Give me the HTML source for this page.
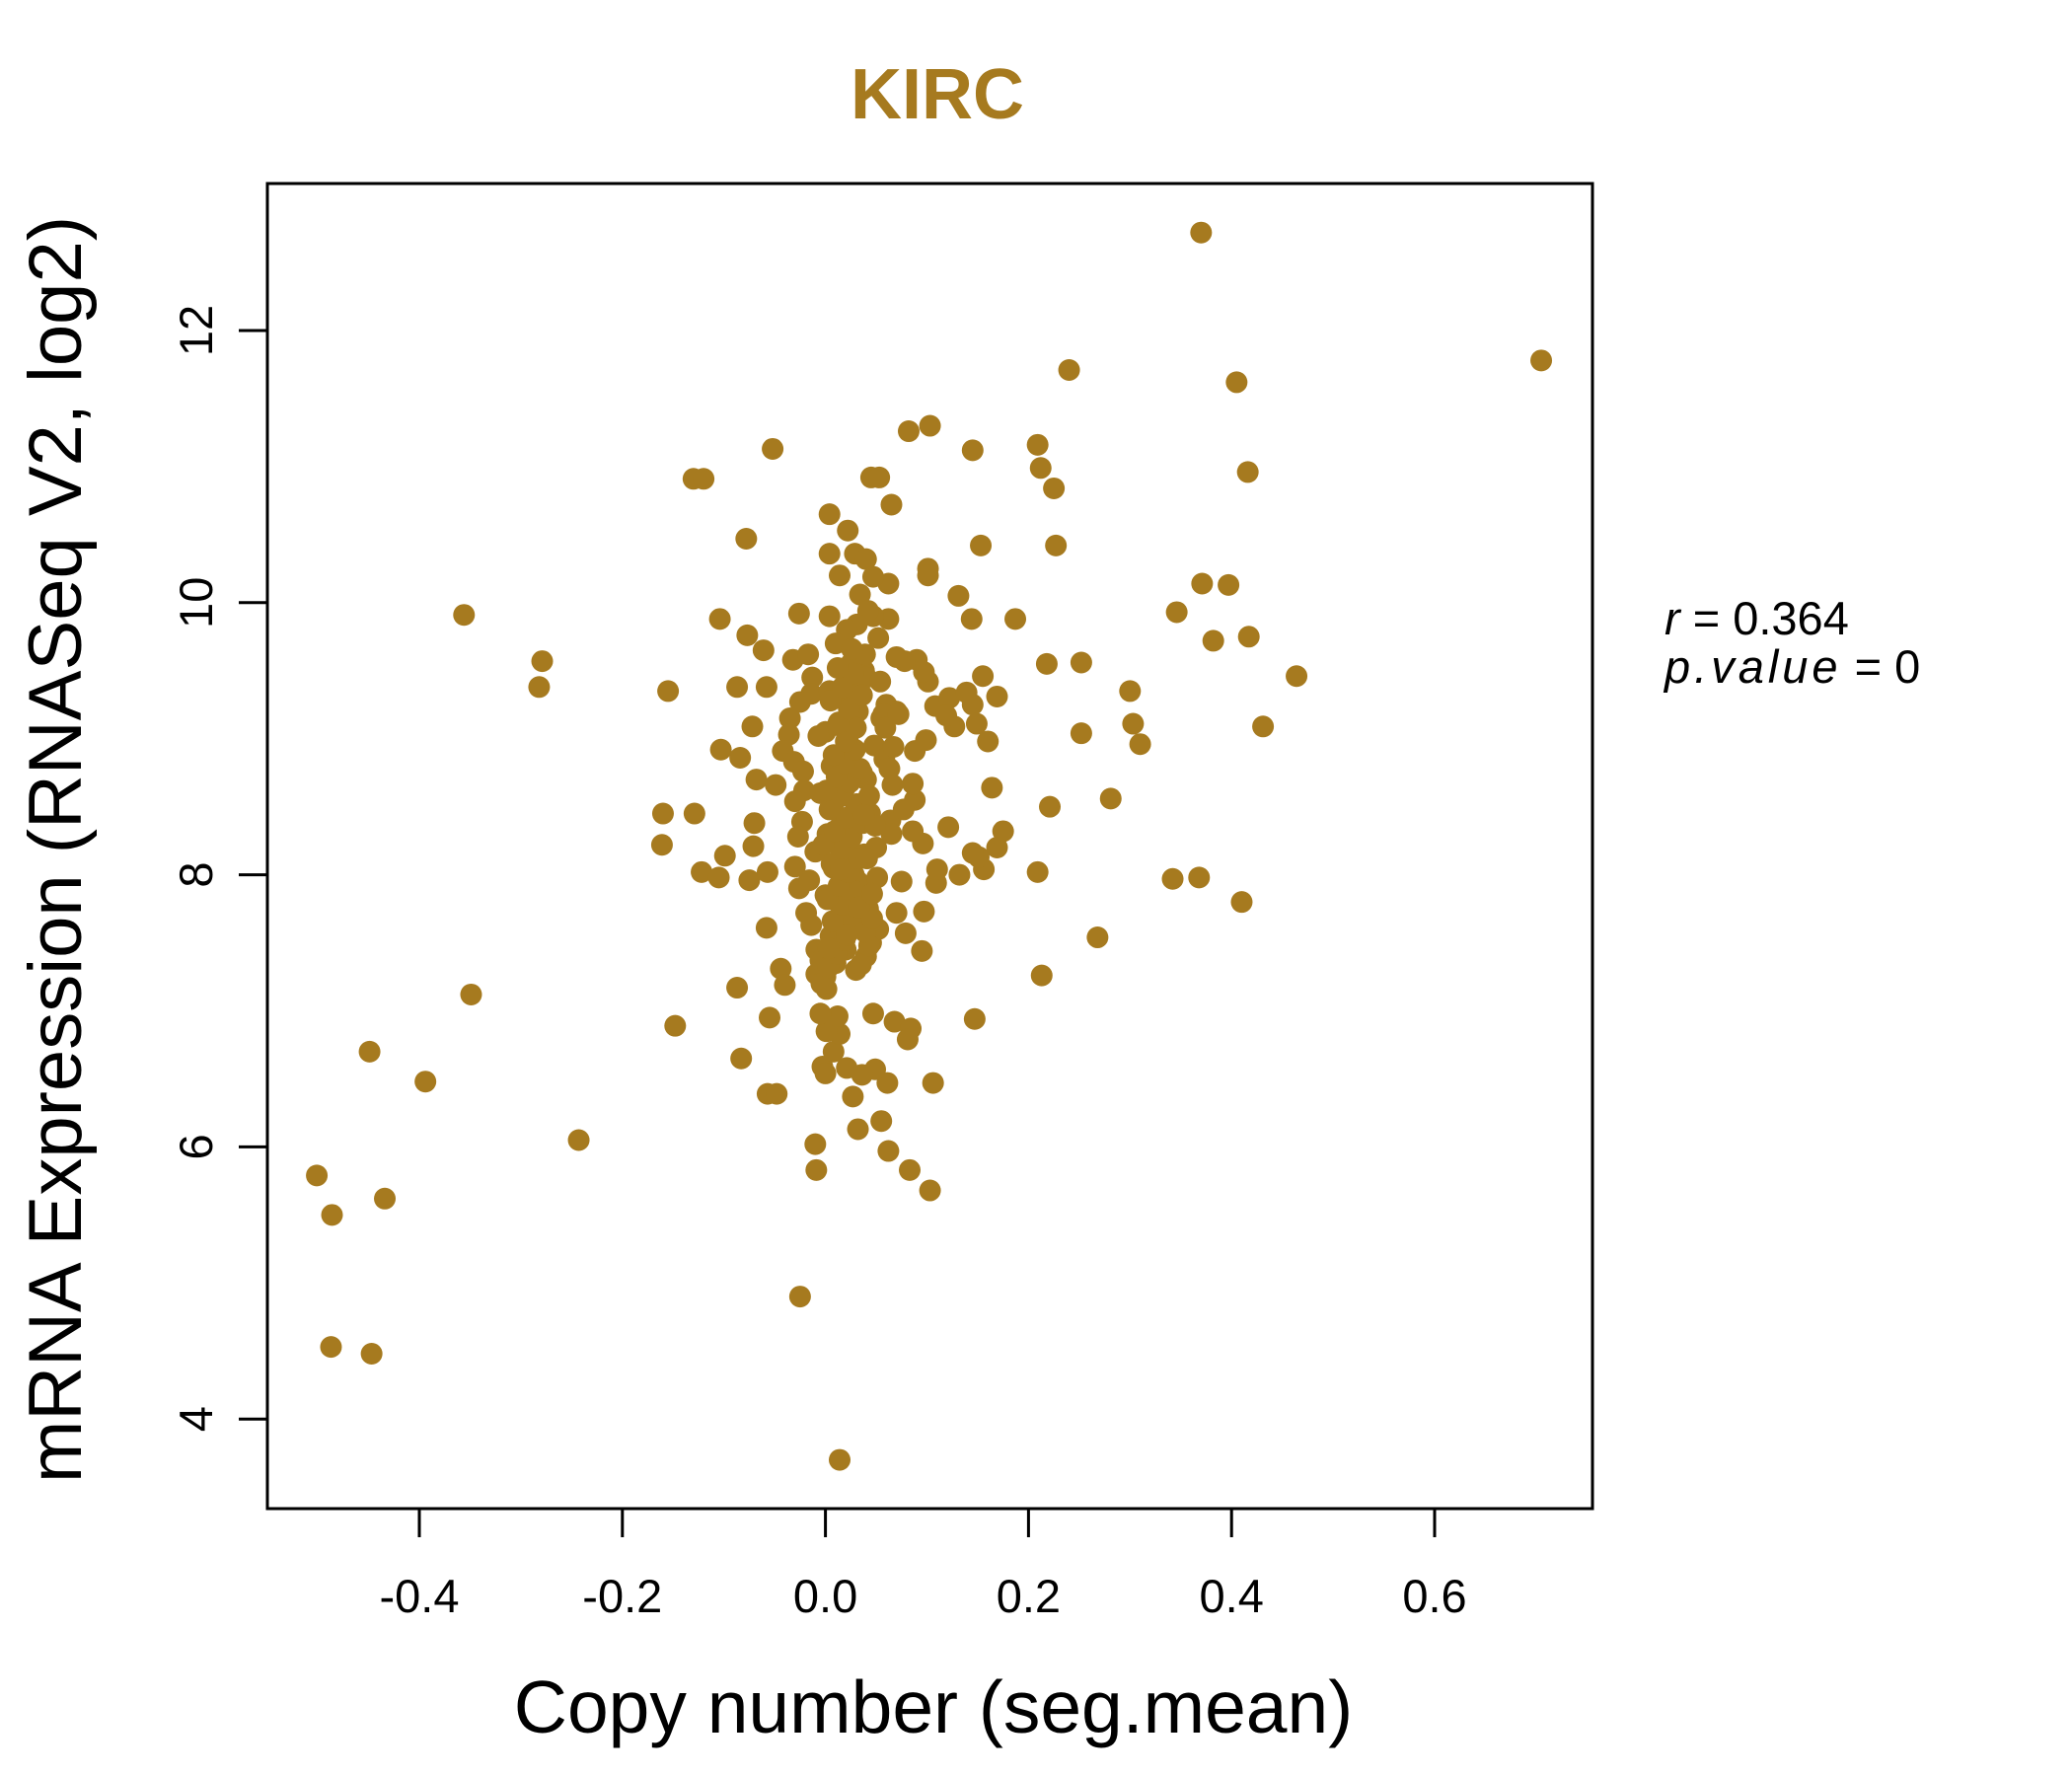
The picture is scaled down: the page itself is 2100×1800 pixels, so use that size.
<!DOCTYPE html>
<html><head><meta charset="utf-8"><style>
html,body{margin:0;padding:0;background:#fff;}
svg{display:block;font-family:"Liberation Sans",Arial,sans-serif;}
</style></head><body>
<svg width="2100" height="1800" viewBox="0 0 2100 1800">
<rect x="0" y="0" width="2100" height="1800" fill="#fff"/>
<text x="950" y="120" text-anchor="middle" font-size="72" font-weight="bold" fill="#A67A1F">KIRC</text>
<g id="points"></g>
<rect x="271" y="186" width="1343" height="1343" fill="none" stroke="#000" stroke-width="3"/>
<g id="xaxis"></g>
<g id="yaxis"></g>
<text x="946" y="1756" text-anchor="middle" font-size="75">Copy number (seg.mean)</text>
<text transform="translate(82,861) rotate(-90)" text-anchor="middle" font-size="76">mRNA Expression (RNASeq V2, log2)</text>
<text x="1687" y="643" font-size="47"><tspan font-style="italic">r</tspan> = 0.364</text>
<text x="1687" y="692" font-size="47"><tspan font-style="italic" letter-spacing="4">p.value</tspan> = 0</text>
</svg>
<script>
const xTicks=[-0.4,-0.2,0.0,0.2,0.4,0.6];
const xTickLabels=["-0.4","-0.2","0.0","0.2","0.4","0.6"];
const yTicks=[4,6,8,10,12];
const yTickLabels=["4","6","8","10","12"];
const xs=[0.370,0.705,0.240,0.405,0.082,0.103,0.209,0.145,-0.052,-0.13,-0.12,0.045,0.053,0.212,0.225,0.416,0.065,0.004,0.022,-0.078,0.153,0.227,0.004,0.029,0.040,0.014,0.101,0.101,0.371,0.397,0.062,0.047,0.131,-0.356,-0.026,0.004,-0.104,0.144,0.187,0.346,-0.077,0.382,0.417,-0.061,-0.279,-0.282,-0.032,-0.017,0.218,0.252,0.464,0.155,-0.155,-0.087,-0.058,0.300,0.169,-0.072,-0.035,0.303,0.431,0.310,0.252,0.160,-0.103,-0.084,-0.068,-0.049,0.164,0.281,0.221,-0.160,-0.129,-0.070,0.175,0.121,-0.161,-0.071,-0.099,0.169,-0.122,-0.105,0.209,0.156,0.342,0.368,-0.075,-0.057,0.410,-0.058,0.268,-0.044,0.213,-0.087,-0.040,-0.349,-0.055,0.147,-0.148,-0.449,-0.083,-0.394,0.106,-0.057,-0.048,-0.243,-0.010,-0.501,-0.009,-0.434,-0.486,-0.025,-0.487,-0.447,0.014,
0.062,0.083,0.103,0.055,0.032,0.027,0.061,0.049,0.036,0.021,-0.003,0.000,0.008,0.014,0.001,0.047,0.068,0.084,0.081,0.012,-0.005,
0.095,0.097,0.079,0.070,0.109,0.110,0.132,0.151,0.145,0.096,0.086,0.064,0.088,0.077,0.086,0.066,0.088,0.099,0.108,0.122,0.127,0.119,0.145,0.139,0.149,0.101,0.097,0.090,0.078,0.062,0.052,0.047,0.034,0.042,0.031,0.021,-0.013,-0.014,-0.025,-0.036,-0.042,-0.031,-0.022,-0.021,-0.030,-0.023,-0.027,-0.030,-0.026,-0.019,-0.014,-0.009,-0.009,0.001,-0.005,-0.016,-0.010,
0.000,0.010,0.020,0.030,0.040,0.005,0.015,0.025,0.035,0.045,0.000,0.012,0.022,0.032,0.042,0.008,0.018,0.028,0.038,0.050,0.002,0.014,0.024,0.034,0.044,-0.005,0.010,0.020,0.030,0.040,0.006,0.016,0.026,0.036,0.048,0.000,0.012,0.022,0.032,0.055,0.004,0.018,0.028,0.038,0.060,0.070,-0.004,0.075,0.065,0.058,0.070,0.052,0.010,0.025,0.040,
0.003,0.011,0.019,0.027,0.035,0.043,0.007,0.017,0.029,0.039,0.002,0.013,0.023,0.033,0.046,0.006,0.015,0.026,0.037,0.051,-0.002,0.009,0.021,0.031,0.041,0.004,0.016,0.024,0.034,0.049,0.001,0.011,0.019,0.029,0.043,0.008,0.020,0.030,0.057,0.063,-0.007,0.013,0.023,0.036,0.054,0.067,0.005,0.017,0.027,0.039,0.059,0.072,0.003,0.021,0.033,0.046,0.012,0.026,0.038,0.015];
const ys=[12.72,11.78,11.71,11.62,11.26,11.30,11.16,11.12,11.13,10.91,10.91,10.92,10.92,10.99,10.84,10.96,10.72,10.65,10.53,10.47,10.42,10.42,10.36,10.36,10.32,10.2,10.25,10.2,10.14,10.13,10.14,10.19,10.05,9.91,9.92,9.9,9.88,9.88,9.88,9.93,9.76,9.72,9.75,9.65,9.57,9.38,9.58,9.62,9.55,9.56,9.46,9.46,9.35,9.38,9.38,9.35,9.31,9.09,9.15,9.11,9.09,8.96,9.04,8.98,8.92,8.86,8.70,8.66,8.64,8.56,8.5,8.45,8.45,8.38,8.32,8.35,8.22,8.21,8.14,8.2,8.02,7.98,8.02,8.04,7.97,7.98,7.96,8.02,7.80,7.61,7.54,7.31,7.26,7.17,7.19,7.12,6.95,6.94,6.89,6.70,6.65,6.48,6.47,6.39,6.39,6.05,6.02,5.79,5.83,5.62,5.50,4.90,4.53,4.48,3.70,
5.97,5.83,5.68,6.19,6.13,6.37,6.47,6.57,6.53,6.58,6.59,6.54,6.70,6.83,6.85,6.98,6.92,6.87,6.79,6.96,6.98,
7.44,7.73,7.57,7.72,7.94,8.04,8.0,8.13,8.16,8.23,8.32,8.4,8.55,8.48,8.67,8.66,8.91,8.99,9.24,9.30,9.09,9.17,9.25,9.34,9.11,9.42,9.49,9.58,9.57,9.88,9.74,9.9,10.06,9.94,9.84,9.80,9.45,9.33,9.27,9.03,8.91,8.83,8.76,8.62,8.54,8.39,8.28,8.06,7.90,7.72,7.63,7.45,7.27,7.16,7.37,7.96,8.17,
7.25,7.35,7.45,7.30,7.40,7.55,7.60,7.70,7.65,7.50,7.85,7.80,7.90,7.95,7.75,8.05,8.10,8.00,8.15,8.20,8.30,8.35,8.25,8.40,8.45,8.60,8.55,8.65,8.50,8.70,8.80,8.85,8.90,8.75,8.95,9.05,9.10,9.00,9.20,9.15,9.35,9.30,9.40,9.50,9.25,9.60,7.20,7.95,8.30,8.85,9.20,7.60,9.70,9.55,9.45,
7.32,7.42,7.52,7.62,7.34,7.48,7.66,7.78,7.88,7.58,7.82,7.92,8.02,8.12,7.68,8.08,8.18,8.28,8.38,7.98,8.22,8.32,8.42,8.52,8.12,8.48,8.58,8.68,8.78,8.36,8.62,8.72,8.82,8.92,8.58,8.88,8.98,9.08,9.18,8.78,9.02,9.12,9.22,9.32,9.42,8.94,9.28,9.38,9.48,9.62,9.08,9.18,7.46,7.56,7.76,7.86,9.52,9.66,8.44,8.04];
const X0=836.6,XS=1029,Y0=335,YS=137.9;
function xScale(v){return X0+v*XS;}
function yScale(v){return Y0+(12-v)*YS;}
const NS="http://www.w3.org/2000/svg";
const pg=document.getElementById('points');
for(let i=0;i<xs.length;i++){
 const c=document.createElementNS(NS,'circle');
 c.setAttribute('cx',xScale(xs[i]));c.setAttribute('cy',yScale(ys[i]));c.setAttribute('r',11);c.setAttribute('fill','#A67A1F');
 
 
 pg.appendChild(c);
}
const xg=document.getElementById('xaxis');
xTicks.forEach((t,i)=>{
 const x=xScale(t);
 const l=document.createElementNS(NS,'line');
 l.setAttribute('x1',x);l.setAttribute('x2',x);l.setAttribute('y1',1529);l.setAttribute('y2',1558);l.setAttribute('stroke','#000');l.setAttribute('stroke-width',3);
 
 
 xg.appendChild(l);
 const tx=document.createElementNS(NS,'text');
 tx.setAttribute('x',x);tx.setAttribute('y',1634);tx.setAttribute('text-anchor','middle');tx.setAttribute('font-size','47');
 tx.textContent=xTickLabels[i];
 
 
 xg.appendChild(tx);
});
const yg=document.getElementById('yaxis');
yTicks.forEach((t,i)=>{
 const y=yScale(t);
 const l=document.createElementNS(NS,'line');
 l.setAttribute('x1',242);l.setAttribute('x2',271);l.setAttribute('y1',y);l.setAttribute('y2',y);l.setAttribute('stroke','#000');l.setAttribute('stroke-width',3);
 
 
 yg.appendChild(l);
 const tx=document.createElementNS(NS,'text');
 tx.setAttribute('transform','translate(215,'+y+') rotate(-90)');tx.setAttribute('text-anchor','middle');tx.setAttribute('font-size','47');
 tx.textContent=yTickLabels[i];
 
 
 yg.appendChild(tx);
});
</script>
</body></html>
